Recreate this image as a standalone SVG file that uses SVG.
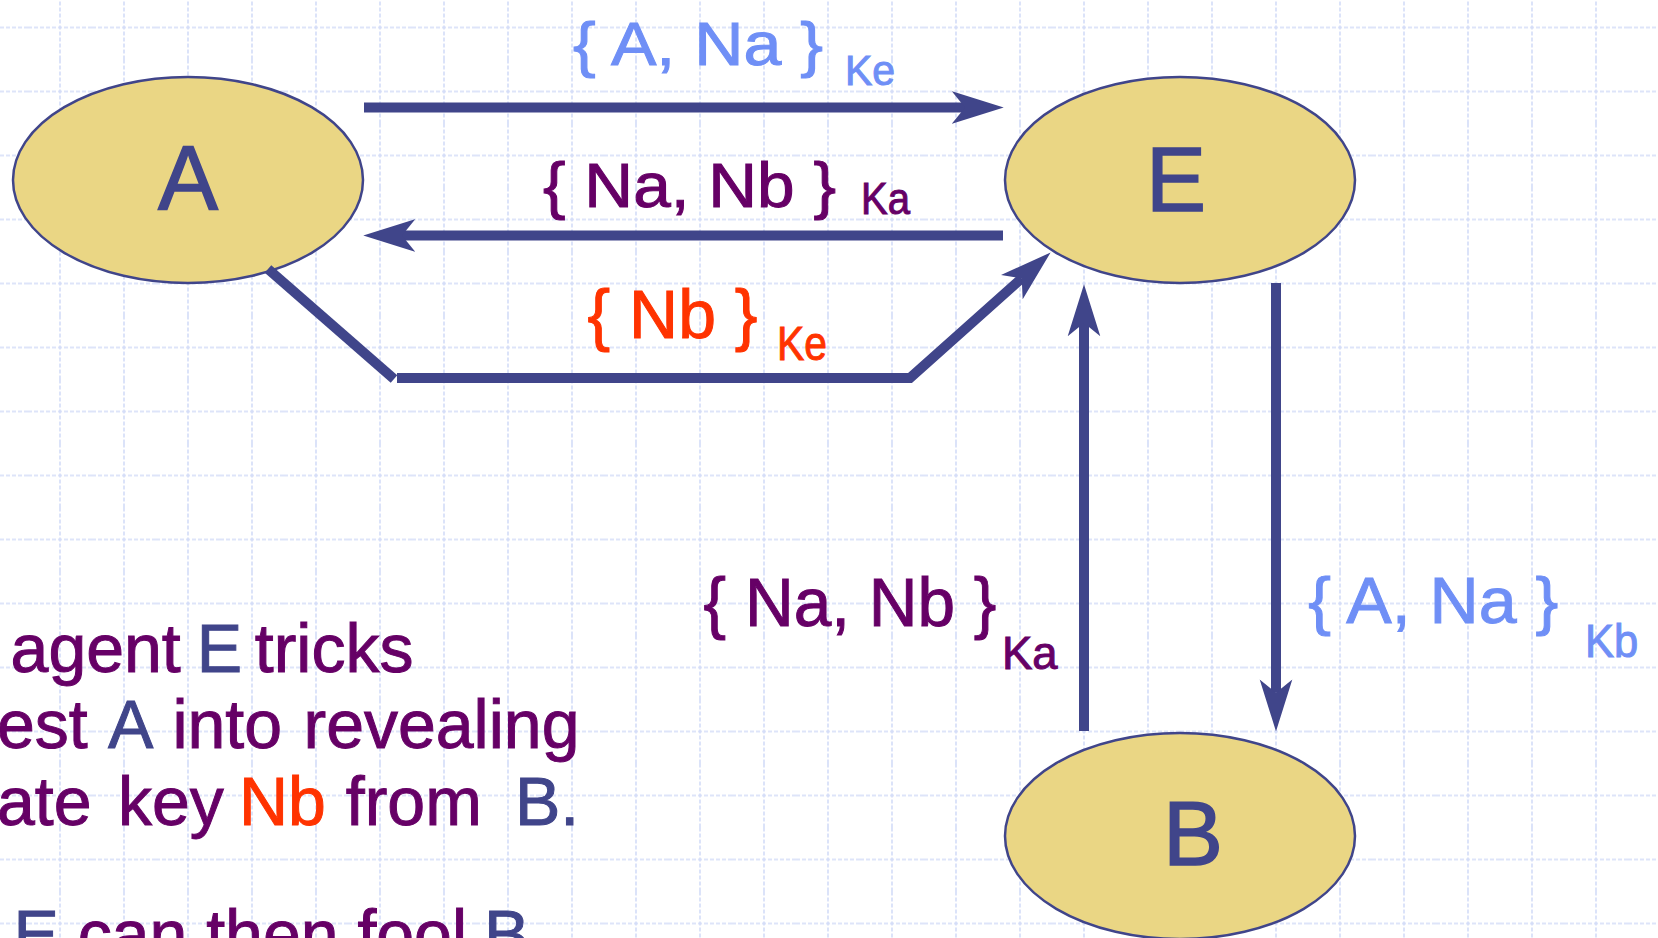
<svg xmlns="http://www.w3.org/2000/svg" width="1658" height="938" viewBox="0 0 1658 938">
<style>
.node{fill:#EAD684;stroke:#40458A;stroke-width:2.5}
.nlabel{font-family:"Liberation Sans",Arial,sans-serif;font-size:90px;fill:#40458A;stroke:#40458A;stroke-width:1.5;text-anchor:middle}
.conn{fill:none;stroke:#40458A;stroke-width:10;stroke-linecap:butt;stroke-linejoin:miter}
.lbl{font-family:"Liberation Sans",Arial,sans-serif;stroke-width:1}
.lb{fill:#6F8FF6;stroke:#6F8FF6}
.pu{fill:#660066;stroke:#660066}
.rd{fill:#FF3300;stroke:#FF3300}
.dk{fill:#40458A;stroke:#40458A}
.body{font-family:"Liberation Sans",Arial,sans-serif;font-size:68px;fill:#660066;stroke:#660066;stroke-width:1}
</style>
<defs>
<pattern id="grid" patternUnits="userSpaceOnUse" x="28" y="-4.5" width="64" height="64">
<path d="M0,32 H64 M32,0 V64" stroke="#D3DCF8" stroke-width="1.6" stroke-dasharray="4 2" fill="none"/>
</pattern>
<marker id="ah" markerUnits="userSpaceOnUse" markerWidth="52" markerHeight="34" viewBox="0 0 51 32" refX="13" refY="16" orient="auto">
<path d="M0,0 L51,16 L0,32 L13,16 Z" fill="#40458A"/>
</marker>
</defs>
<rect x="0" y="0" width="1658" height="938" fill="#FFFFFF"/>
<rect x="0" y="0" width="1658" height="938" fill="url(#grid)"/>

<g id="node-A">
<ellipse class="node" cx="188" cy="180" rx="175" ry="103"/>
<text class="nlabel" x="188" y="209">A</text>
</g>
<g id="node-E">
<ellipse class="node" cx="1180" cy="180" rx="175" ry="103"/>
<text class="nlabel" x="1176" y="211">E</text>
</g>
<g id="node-B">
<ellipse class="node" cx="1180" cy="836" rx="175" ry="103"/>
<text class="nlabel" x="1193" y="865">B</text>
</g>

<g id="connectors">
<path class="conn" d="M364,107.5 H965" marker-end="url(#ah)"/>
<path class="conn" d="M1003,235.5 H402" marker-end="url(#ah)"/>
<path class="conn" d="M268,269 L394,379"/>
<path class="conn" d="M397,378 H910 L1021.7,278.3" marker-end="url(#ah)"/>
<path class="conn" d="M1084,731 V323" marker-end="url(#ah)"/>
<path class="conn" d="M1276,283 V692.7" marker-end="url(#ah)"/>
</g>

<g id="labels">
<text class="lbl lb" x="573" y="65" font-size="61" textLength="250" lengthAdjust="spacingAndGlyphs">{ A, Na }</text>
<text class="lbl lb" x="845" y="85" font-size="42" textLength="50" lengthAdjust="spacingAndGlyphs">Ke</text>
<text class="lbl pu" x="543" y="206.5" font-size="63" textLength="293" lengthAdjust="spacingAndGlyphs">{ Na, Nb }</text>
<text class="lbl pu" x="861" y="214" font-size="45" textLength="49" lengthAdjust="spacingAndGlyphs">Ka</text>
<text class="lbl rd" x="587.5" y="337.5" font-size="68" textLength="170" lengthAdjust="spacingAndGlyphs">{ Nb }</text>
<text class="lbl rd" x="777" y="360" font-size="48" textLength="50" lengthAdjust="spacingAndGlyphs">Ke</text>
<text class="lbl pu" x="703.6" y="626" font-size="68" textLength="292.7" lengthAdjust="spacingAndGlyphs">{ Na, Nb }</text>
<text class="lbl pu" x="1002" y="669.3" font-size="46" textLength="55.6" lengthAdjust="spacingAndGlyphs" stroke-width="0">Ka</text>
<text class="lbl lb" x="1308.3" y="623.3" font-size="65" textLength="250" lengthAdjust="spacingAndGlyphs">{ A, Na }</text>
<text class="lbl lb" x="1585" y="657.3" font-size="47" textLength="53.3" lengthAdjust="spacingAndGlyphs" stroke-width="0">Kb</text>
</g>

<g id="body-text">
<text class="body" y="671.7"><tspan x="10.6">agent</tspan> <tspan class="dk" x="196.7">E</tspan> <tspan x="254.8">tricks</tspan></text>
<text class="body" y="748.3"><tspan x="-3">est</tspan> <tspan class="dk" x="107.9">A</tspan> <tspan x="172.4">into</tspan> <tspan x="303.5">revealing</tspan></text>
<text class="body" y="825"><tspan x="-3">ate</tspan> <tspan x="118">key</tspan> <tspan class="rd" x="239">Nb</tspan> <tspan x="345.8">from</tspan> <tspan class="dk" x="515">B.</tspan></text>
<text class="body" y="958"><tspan class="dk" x="13.4">E</tspan><tspan> can then fool </tspan><tspan class="dk" x="484">B</tspan></text>
</g>
</svg>
